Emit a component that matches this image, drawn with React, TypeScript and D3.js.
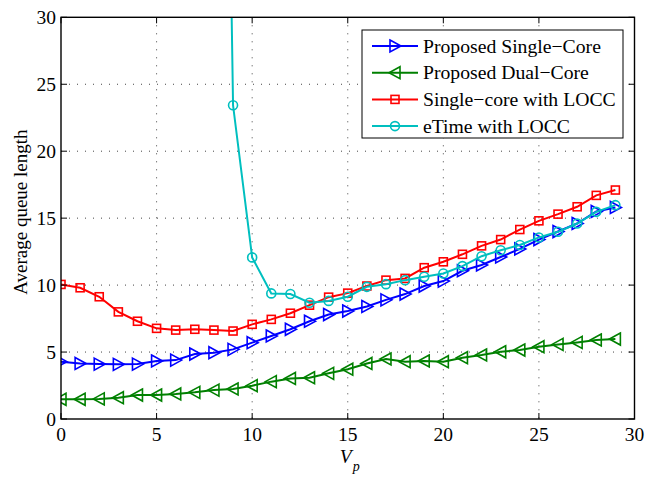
import React from "react";
import * as d3 from "d3";

// values
const vp = d3.range(0, 30);
const singleCore = [4.28, 4.15, 4.1, 4.08, 4.1, 4.33, 4.4, 4.85, 4.95, 5.2, 5.7, 6.2, 6.7, 7.3, 7.8, 8.06, 8.4, 8.9, 9.33, 9.93, 10.3, 11.07, 11.5, 12.1, 12.7, 13.4, 14.0, 14.6, 15.5, 15.8];
const dualCore = [1.47, 1.47, 1.5, 1.59, 1.79, 1.79, 1.87, 1.99, 2.16, 2.24, 2.49, 2.79, 3.03, 3.08, 3.41, 3.72, 4.15, 4.48, 4.28, 4.33, 4.28, 4.58, 4.78, 5.02, 5.15, 5.4, 5.57, 5.72, 5.9, 5.97];
const singleLocc = [10.05, 9.8, 9.13, 8.0, 7.3, 6.77, 6.64, 6.7, 6.64, 6.57, 7.07, 7.44, 7.9, 8.5, 9.1, 9.4, 9.93, 10.37, 10.5, 11.3, 11.74, 12.3, 12.93, 13.4, 14.15, 14.8, 15.3, 15.85, 16.7, 17.1];
const etimeX = d3.range(8, 30);
const etimeLocc = [115, 23.43, 12.07, 9.38, 9.33, 8.68, 8.82, 9.13, 9.87, 10.07, 10.37, 10.62, 10.87, 11.42, 12.16, 12.6, 13.0, 13.56, 13.98, 14.6, 15.47, 15.97];

const xTicks = [0, 5, 10, 15, 20, 25, 30];
const yTicks = [0, 5, 10, 15, 20, 25, 30];

type Series = { name: string; color: string; marker: string; xs: number[]; ys: number[] };
const series: Series[] = [
  { name: "Proposed Single\u2212Core", color: "#0000ff", marker: "right", xs: vp, ys: singleCore },
  { name: "Proposed Dual\u2212Core", color: "#008000", marker: "left", xs: vp, ys: dualCore },
  { name: "Single\u2212core with LOCC", color: "#ff0000", marker: "square", xs: vp, ys: singleLocc },
  { name: "eTime with LOCC", color: "#00bfbf", marker: "circle", xs: etimeX, ys: etimeLocc },
];

const FONT = "Liberation Serif, DejaVu Serif, serif";

const Marker = ({ kind, x, y, color }: { kind: string; x: number; y: number; color: string }) => {
  const sw = 1.6;
  if (kind === "right")
    return <path d={`M${x - 5},${y - 6}L${x + 6},${y}L${x - 5},${y + 6}Z`} fill="none" stroke={color} strokeWidth={sw} />;
  if (kind === "left")
    return <path d={`M${x + 5},${y - 6}L${x - 6},${y}L${x + 5},${y + 6}Z`} fill="none" stroke={color} strokeWidth={sw} />;
  if (kind === "square")
    return <rect x={x - 4} y={y - 4} width={8} height={8} fill="none" stroke={color} strokeWidth={sw} />;
  return <circle cx={x} cy={y} r={4.5} fill="none" stroke={color} strokeWidth={sw} />;
};

export default function App() {
  const width = 647;
  const height = 477;
  const left = 61, right = 634.5, top = 17.3, bottom = 419;

  const x = d3.scaleLinear().domain([0, 30]).range([left, right]);
  const y = d3.scaleLinear().domain([0, 30]).range([bottom, top]);
  const line = d3.line<[number, number]>().x((d) => x(d[0])).y((d) => y(d[1]));

  return (
    <svg width={width} height={height} style={{ position: "absolute", left: 0, top: 0, background: "#fff", fontFamily: FONT }}>
      <defs>
        <clipPath id="plot">
          <rect x={left} y={top} width={right - left} height={bottom - top} />
        </clipPath>
      </defs>
      <rect width={width} height={height} fill="#fff" />

      {/* grid */}
      <g stroke="#444" strokeWidth={1} strokeDasharray="1,7">
        {xTicks.slice(1, -1).map((t) => (
          <line key={"gx" + t} x1={x(t)} x2={x(t)} y1={top} y2={bottom} />
        ))}
        {yTicks.slice(1, -1).map((t) => (
          <line key={"gy" + t} x1={left} x2={right} y1={y(t)} y2={y(t)} />
        ))}
      </g>

      {/* series */}
      <g clipPath="url(#plot)">
        {series.map((s) => {
          const pts = s.xs.map((v, i) => [v, s.ys[i]] as [number, number]);
          return (
            <g key={s.name}>
              <path d={line(pts) || ""} fill="none" stroke={s.color} strokeWidth={2} />
              {pts.map((p, i) => (
                <Marker key={i} kind={s.marker} x={x(p[0])} y={y(p[1])} color={s.color} />
              ))}
            </g>
          );
        })}
      </g>

      {/* axes box and ticks */}
      <rect x={left} y={top} width={right - left} height={bottom - top} fill="none" stroke="#000" strokeWidth={1.4} />
      <g stroke="#000" strokeWidth={1}>
        {xTicks.map((t) => (
          <g key={"tx" + t}>
            <line x1={x(t)} x2={x(t)} y1={bottom} y2={bottom - 6} />
            <line x1={x(t)} x2={x(t)} y1={top} y2={top + 6} />
          </g>
        ))}
        {yTicks.map((t) => (
          <g key={"ty" + t}>
            <line x1={left} x2={left + 6} y1={y(t)} y2={y(t)} />
            <line x1={right} x2={right - 6} y1={y(t)} y2={y(t)} />
          </g>
        ))}
      </g>
      <g fontSize={19.5} fill="#000" style={{ fontFamily: FONT }}>
        {xTicks.map((t) => (
          <text key={"lx" + t} x={x(t)} y={bottom + 22} textAnchor="middle">{t}</text>
        ))}
        {yTicks.map((t) => (
          <text key={"ly" + t} x={left - 5} y={y(t) + 6.5} textAnchor="end">{t}</text>
        ))}
      </g>

      {/* axis labels */}
      <text x={x(15) + 2} y={463} fontSize={19.5} textAnchor="middle" fontStyle="italic" style={{ fontFamily: FONT }}>
        V<tspan fontSize={14} dx={1} dy={8}>p</tspan>
      </text>
      <text transform={`translate(27,${(top + bottom) / 2 - 6}) rotate(-90)`} fontSize={19} textAnchor="middle" style={{ fontFamily: FONT }}>
        Average queue length
      </text>

      {/* legend */}
      <g>
        <rect x={362} y={30} width={261} height={108} fill="#fff" stroke="#000" strokeWidth={1} />
        {series.map((s, i) => {
          const ly = 46 + i * 26.7;
          return (
            <g key={"lg" + s.name}>
              <line x1={372} x2={418} y1={ly} y2={ly} stroke={s.color} strokeWidth={2} />
              <Marker kind={s.marker} x={395} y={ly} color={s.color} />
              <text x={423} y={ly + 6.5} fontSize={19.7} style={{ fontFamily: FONT }}>{s.name}</text>
            </g>
          );
        })}
      </g>
    </svg>
  );
}
